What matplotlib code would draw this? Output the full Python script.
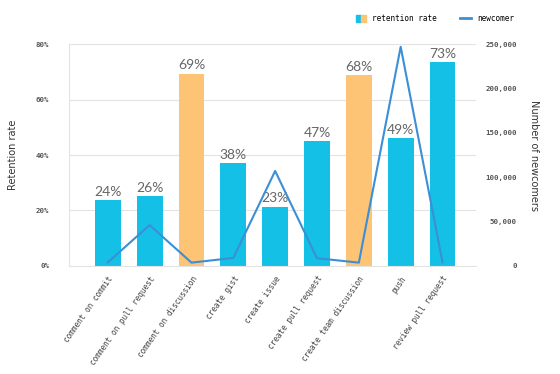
import matplotlib
matplotlib.use('Agg')
import matplotlib.pyplot as plt
from matplotlib.patches import Patch
from matplotlib.lines import Line2D
from matplotlib.legend_handler import HandlerTuple
from matplotlib.ticker import FuncFormatter

categories = ['comment on commit', 'comment on pull request', 'comment on discussion',
              'create gist', 'create issue', 'create pull request',
              'create team discussion', 'push', 'review pull request']
retention = [23.8, 25.2, 69.4, 37.0, 21.4, 45.0, 68.8, 46.0, 73.6]
retention_labels = ['24%', '26%', '69%', '38%', '23%', '47%', '68%', '49%', '73%']
newcomers = [4000, 46000, 3700, 9000, 107000, 8700, 3700, 247000, 4000]
highlight = ['comment on discussion', 'create team discussion']

cyan = '#14c0e6'
orange = '#fdc475'
line_color = '#3a8fd6'
grid_color = '#e3e3e3'
mono = 'DejaVu Sans Mono'

fig = plt.figure(figsize=(5.6, 3.74), dpi=100)
ax = fig.add_axes([0.123, 0.289, 0.727, 0.593])
ax2 = ax.twinx()

x = list(range(len(categories)))
colors = [orange if c in highlight else cyan for c in categories]
ax.bar(x, retention, width=0.62, color=colors, zorder=2)
for xi, v, lab in zip(x, retention, retention_labels):
    ax.text(xi, v + 0.8, lab, ha='center', va='bottom', fontsize=10,
            color='#666666', family='Lato', zorder=3)

ax.set_ylim(0, 80)
ax.set_xlim(-0.93, 8.8)
ax.set_yticks([0, 20, 40, 60, 80])
ax.yaxis.set_major_formatter(FuncFormatter(lambda v, p: '%d%%' % v))
ax.grid(axis='y', color=grid_color, linewidth=0.8, zorder=0)
ax.set_axisbelow(True)
ax.set_xticks(x)
ax.set_xticklabels(categories, rotation=55, ha='right', rotation_mode='anchor',
                   fontsize=5.6, family=mono, color='#444444')
ax.tick_params(axis='x', length=0, pad=6)
ax.tick_params(axis='y', length=0, pad=14, labelsize=5.3, labelcolor='#555555')
for lab in ax.get_yticklabels():
    lab.set_family(mono)
    lab.set_fontweight('bold')
for s in ['top', 'right']:
    ax.spines[s].set_visible(False)
ax.spines['left'].set_color(grid_color)
ax.spines['bottom'].set_color(grid_color)
ax.set_ylabel('Retention rate', fontsize=7, color='#333333', labelpad=13)

ax2.plot(x, newcomers, color=line_color, linewidth=1.5, zorder=4)
ax2.set_ylim(0, 250000)
ax2.set_yticks([0, 50000, 100000, 150000, 200000, 250000])
ax2.yaxis.set_major_formatter(FuncFormatter(lambda v, p: '{:,.0f}'.format(v)))
ax2.tick_params(axis='y', length=0, pad=29.5, labelsize=5.3, labelcolor='#555555')
for lab in ax2.get_yticklabels():
    lab.set_family(mono)
    lab.set_fontweight('bold')
    lab.set_horizontalalignment('right')
for s in ax2.spines.values():
    s.set_visible(False)
ax2.set_ylabel('Number of newcomers', fontsize=7, color='#333333', rotation=-90, labelpad=16)

handles = [(Patch(color=cyan), Patch(color=orange)), Line2D([], [], color=line_color, linewidth=2)]
fig.legend(handles, ['retention rate', 'newcomer'], loc='center right',
           bbox_to_anchor=(0.93, 0.95), ncol=2, frameon=False,
           handler_map={tuple: HandlerTuple(ndivide=None, pad=0)},
           prop={'family': mono, 'size': 5.5}, handlelength=1.4, handleheight=1.1,
           columnspacing=3, handletextpad=0.8)

fig.savefig('out.png', dpi=100)
